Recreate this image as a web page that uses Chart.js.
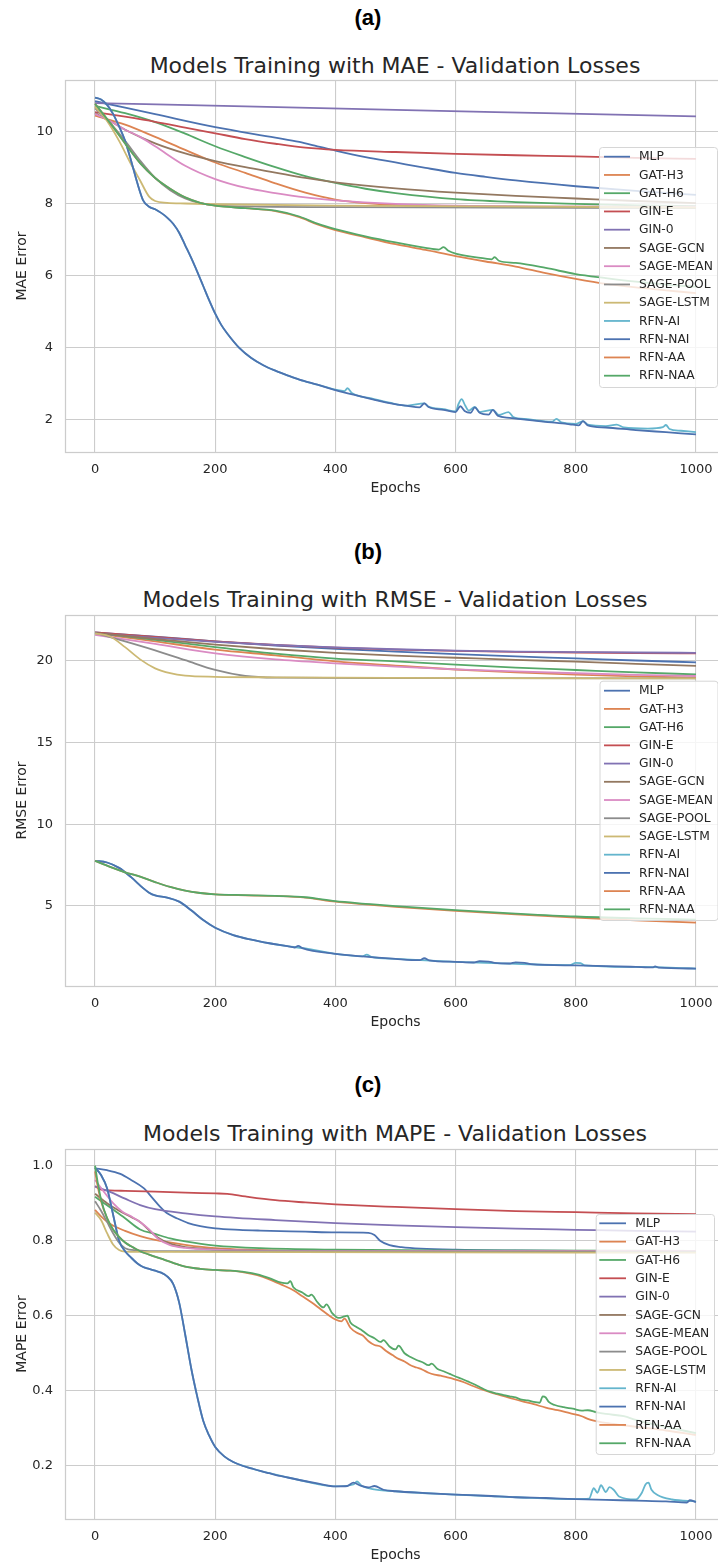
<!DOCTYPE html>
<html>
<head>
<meta charset="utf-8">
<script src="https://cdn.jsdelivr.net/npm/chart.js@4.4.0/dist/chart.umd.min.js"></script>
<style>
  body { margin: 0; background: #fff; width: 718px; height: 1566px; overflow: hidden; position: relative; }
  .tag { position: absolute; left: 0; width: 736px; text-align: center; font: bold 22px 'Liberation Sans', Arial, sans-serif; line-height: 26px; color: #000; }
  .title { position: absolute; left: 65px; width: 660px; text-align: center; font: 22px 'DejaVu Sans', sans-serif; line-height: 26px; color: #262626; white-space: nowrap; }
  canvas { position: absolute; left: 0; }
</style>
</head>
<body>
<div class="tag" style="top:5px">(a)</div>
<div class="title" style="top:53px">Models Training with MAE - Validation Losses</div>
<canvas id="maeChart" width="726" height="432" style="top:70px"></canvas>

<div class="tag" style="top:539px">(b)</div>
<div class="title" style="top:587px">Models Training with RMSE - Validation Losses</div>
<canvas id="rmseChart" width="726" height="431" style="top:605px"></canvas>

<div class="tag" style="top:1072px">(c)</div>
<div class="title" style="top:1121px">Models Training with MAPE - Validation Losses</div>
<canvas id="mapeChart" width="726" height="430" style="top:1139px"></canvas>

<script>
// model names, in legend order
const models = ['MLP', 'GAT-H3', 'GAT-H6', 'GIN-E', 'GIN-0', 'SAGE-GCN', 'SAGE-MEAN',
  'SAGE-POOL', 'SAGE-LSTM', 'RFN-AI', 'RFN-NAI', 'RFN-AA', 'RFN-NAA'];

const xTicks = [0, 200, 400, 600, 800, 1000];
const maeTicks = [2, 4, 6, 8, 10];
const rmseTicks = [5, 10, 15, 20];
const mapeTicks = [0.2, 0.4, 0.6, 0.8, 1.0];

// ---- MAE validation loss, [epoch, value] ----
const maeMLP = [[0,10.85],[100,10.49],[200,10.13],[300,9.84],[340,9.72],[370,9.6],[400,9.48],[450,9.3],[500,9.15],[550,9.0],[600,8.86],[650,8.75],[700,8.65],[800,8.49],[900,8.36],[1000,8.25]];
const maeGATH3 = [[0,10.45],[50,10.2],[100,9.86],[150,9.5],[200,9.15],[250,8.86],[300,8.57],[350,8.31],[400,8.12],[450,8.02],[500,7.97],[600,7.94],[800,7.92],[1000,7.9]];
const maeGATH6 = [[0,10.72],[50,10.52],[100,10.27],[150,9.95],[200,9.6],[250,9.3],[300,9.02],[350,8.77],[400,8.58],[450,8.42],[500,8.3],[600,8.13],[700,8.05],[800,8.0],[900,7.96],[1000,7.94]];
const maeGINE = [[0,10.55],[50,10.42],[100,10.28],[150,10.12],[200,9.96],[250,9.8],[300,9.67],[350,9.56],[400,9.5],[500,9.44],[600,9.39],[700,9.35],[800,9.32],[900,9.28],[1000,9.25]];
const maeGIN0 = [[0,10.8],[250,10.71],[500,10.61],[750,10.52],[1000,10.43]];
const maeSAGEGCN = [[0,10.52],[25,10.3],[50,10.06],[100,9.68],[150,9.4],[200,9.19],[250,9.02],[300,8.87],[350,8.72],[400,8.6],[500,8.43],[600,8.31],[700,8.22],[800,8.15],[900,8.08],[1000,8.02]];
const maeSAGEMEAN = [[0,10.5],[25,10.3],[50,10.06],[75,9.86],[100,9.6],[150,9.06],[200,8.69],[250,8.45],[300,8.3],[350,8.18],[400,8.1],[500,8.0],[600,7.95],[800,7.92],[1000,7.92]];
const maeSAGEPOOL = [[0,10.65],[25,10.25],[50,9.75],[75,9.2],[100,8.72],[125,8.38],[150,8.15],[175,8.02],[200,7.96],[250,7.93],[400,7.91],[1000,7.88]];
const maeSAGELSTM = [[0,10.7],[20,10.3],[40,9.75],[60,9.1],[75,8.65],[90,8.2],[100,8.08],[120,8.03],[150,8.01],[200,7.99],[400,7.95],[1000,7.9]];
const maeRFNAI = [[0,10.95],[10,10.9],[20,10.75],[30,10.5],[40,10.15],[50,9.75],[60,9.2],[70,8.6],[80,8.1],[90,7.92],[100,7.85],[110,7.75],[120,7.62],[130,7.45],[140,7.2],[150,6.85],[160,6.5],[170,6.12],[180,5.72],[190,5.32],[200,4.95],[210,4.64],[220,4.4],[240,4.0],[260,3.72],[280,3.52],[300,3.37],[320,3.24],[340,3.12],[370,2.98],[400,2.84],[415,2.8],[420,2.88],[428,2.74],[460,2.6],[490,2.48],[520,2.4],[548,2.46],[555,2.37],[580,2.3],[600,2.24],[605,2.45],[610,2.58],[616,2.4],[622,2.26],[632,2.36],[640,2.22],[662,2.28],[672,2.14],[688,2.22],[696,2.08],[720,2.02],[760,1.95],[768,2.03],[776,1.93],[800,1.89],[812,1.97],[820,1.87],[850,1.83],[868,1.87],[880,1.79],[920,1.76],[945,1.8],[950,1.86],[956,1.75],[975,1.7],[1000,1.66]];
const maeRFNNAI = [[0,10.95],[10,10.9],[20,10.75],[30,10.5],[40,10.15],[50,9.75],[60,9.2],[70,8.6],[80,8.1],[90,7.92],[100,7.85],[110,7.75],[120,7.62],[130,7.45],[140,7.2],[150,6.85],[160,6.5],[170,6.12],[180,5.72],[190,5.32],[200,4.95],[210,4.64],[220,4.4],[240,4.0],[260,3.72],[280,3.52],[300,3.37],[320,3.24],[340,3.12],[370,2.98],[400,2.83],[430,2.7],[460,2.58],[490,2.47],[520,2.39],[540,2.35],[548,2.46],[555,2.36],[580,2.28],[600,2.22],[608,2.38],[615,2.25],[625,2.2],[632,2.35],[640,2.2],[655,2.15],[662,2.28],[670,2.12],[690,2.06],[720,2.0],[760,1.93],[790,1.88],[805,1.85],[812,1.97],[820,1.85],[850,1.79],[900,1.72],[950,1.66],[1000,1.6]];
const maeRFNAA = [[0,10.78],[25,10.25],[50,9.68],[75,9.13],[100,8.72],[125,8.42],[150,8.18],[175,8.03],[200,7.95],[250,7.88],[300,7.8],[340,7.63],[370,7.43],[400,7.27],[450,7.07],[500,6.88],[550,6.72],[600,6.55],[650,6.4],[700,6.26],[750,6.08],[800,5.92],[850,5.78],[900,5.68],[950,5.6],[1000,5.52]];
const maeRFNNAA = [[0,10.78],[25,10.25],[50,9.68],[75,9.13],[100,8.72],[125,8.42],[150,8.18],[175,8.03],[200,7.95],[250,7.88],[300,7.81],[340,7.65],[370,7.45],[400,7.3],[450,7.1],[500,6.93],[550,6.78],[572,6.73],[580,6.8],[588,6.7],[600,6.62],[650,6.48],[660,6.46],[665,6.52],[672,6.42],[700,6.36],[750,6.22],[800,6.05],[850,5.94],[900,5.84],[950,5.76],[1000,5.7]];

// ---- RMSE validation loss ----
const rmseMLP = [[0,21.75],[100,21.5],[200,21.2],[300,20.95],[400,20.75],[500,20.58],[600,20.42],[700,20.28],[800,20.16],[900,20.03],[1000,19.92]];
const rmseGATH3 = [[0,21.7],[50,21.45],[100,21.2],[200,20.7],[300,20.35],[400,19.98],[500,19.72],[600,19.48],[700,19.3],[800,19.16],[900,19.06],[1000,18.98]];
const rmseGATH6 = [[0,21.72],[100,21.3],[200,20.85],[300,20.45],[400,20.15],[500,19.98],[600,19.78],[700,19.6],[800,19.45],[900,19.3],[1000,19.18]];
const rmseGINE = [[0,21.75],[100,21.48],[200,21.2],[300,20.98],[400,20.82],[500,20.7],[600,20.62],[700,20.56],[800,20.52],[900,20.49],[1000,20.47]];
const rmseGIN0 = [[0,21.7],[100,21.42],[200,21.17],[300,20.98],[400,20.84],[500,20.72],[600,20.64],[700,20.58],[800,20.55],[900,20.52],[1000,20.5]];
const rmseSAGEGCN = [[0,21.72],[100,21.35],[200,21.0],[300,20.72],[400,20.5],[500,20.33],[600,20.2],[700,20.07],[800,19.96],[900,19.83],[1000,19.7]];
const rmseSAGEMEAN = [[0,21.6],[100,21.05],[200,20.47],[300,20.1],[400,19.86],[500,19.66],[600,19.49],[700,19.36],[800,19.25],[900,19.15],[1000,19.08]];
const rmseSAGEPOOL = [[0,21.72],[50,21.2],[100,20.65],[150,20.05],[200,19.45],[250,19.08],[300,18.98],[500,18.95],[1000,18.93]];
const rmseSAGELSTM = [[0,21.7],[25,21.5],[50,20.85],[75,20.1],[100,19.55],[125,19.25],[150,19.1],[200,19.03],[300,19.0],[500,18.97],[1000,18.93]];
const rmseRFNAI = [[0,7.75],[20,7.65],[40,7.32],[60,6.75],[80,6.08],[90,5.8],[100,5.63],[120,5.5],[140,5.25],[160,4.72],[180,4.12],[200,3.65],[230,3.2],[260,2.92],[290,2.7],[320,2.52],[350,2.38],[400,2.05],[445,1.9],[452,2.0],[460,1.86],[500,1.74],[600,1.56],[700,1.44],[790,1.36],[800,1.5],[808,1.48],[815,1.35],[900,1.25],[1000,1.15]];
const rmseRFNNAI = [[0,7.75],[20,7.65],[40,7.32],[60,6.75],[80,6.08],[90,5.8],[100,5.63],[120,5.5],[140,5.25],[160,4.72],[180,4.12],[200,3.65],[230,3.2],[260,2.92],[290,2.7],[320,2.52],[332,2.44],[338,2.54],[345,2.4],[400,2.05],[450,1.88],[500,1.74],[540,1.66],[548,1.78],[556,1.65],[600,1.56],[630,1.52],[640,1.6],[655,1.58],[665,1.5],[690,1.46],[700,1.53],[715,1.5],[725,1.42],[800,1.34],[850,1.3],[900,1.25],[928,1.22],[932,1.28],[938,1.21],[1000,1.15]];
const rmseRFNAA = [[0,7.75],[25,7.38],[50,7.05],[75,6.78],[100,6.45],[125,6.15],[150,5.92],[175,5.78],[200,5.7],[250,5.64],[300,5.6],[350,5.5],[400,5.25],[450,5.08],[500,4.93],[600,4.68],[700,4.47],[800,4.28],[900,4.1],[1000,3.97]];
const rmseRFNNAA = [[0,7.75],[25,7.38],[50,7.05],[75,6.78],[100,6.45],[125,6.15],[150,5.92],[175,5.78],[200,5.7],[250,5.65],[300,5.6],[350,5.52],[400,5.28],[450,5.12],[500,4.97],[600,4.73],[700,4.52],[800,4.34],[900,4.23],[1000,4.15]];

// ---- MAPE validation loss ----
const mapeMLP = [[0,0.993],[20,0.988],[42,0.978],[60,0.962],[81,0.94],[95,0.915],[108,0.891],[120,0.873],[136,0.86],[155,0.847],[175,0.839],[200,0.833],[240,0.829],[275,0.827],[350,0.824],[400,0.822],[455,0.821],[465,0.815],[475,0.799],[490,0.788],[510,0.783],[542,0.779],[600,0.776],[700,0.774],[800,0.773],[1000,0.772]];
const mapeGATH3 = [[0,0.882],[10,0.865],[25,0.845],[50,0.826],[75,0.812],[100,0.802],[150,0.789],[200,0.78],[300,0.774],[400,0.772],[1000,0.77]];
const mapeGATH6 = [[0,0.917],[15,0.9],[30,0.883],[50,0.86],[75,0.83],[100,0.818],[125,0.806],[150,0.798],[200,0.787],[275,0.78],[400,0.776],[600,0.774],[1000,0.773]];
const mapeGINE = [[0,0.945],[10,0.936],[50,0.933],[100,0.931],[150,0.928],[200,0.926],[220,0.925],[250,0.918],[300,0.908],[350,0.902],[400,0.897],[500,0.89],[600,0.884],[700,0.879],[800,0.876],[900,0.873],[1000,0.871]];
const mapeGIN0 = [[0,0.945],[25,0.93],[50,0.912],[75,0.895],[100,0.884],[150,0.873],[200,0.865],[300,0.855],[400,0.847],[500,0.841],[600,0.836],[700,0.832],[800,0.829],[900,0.826],[1000,0.824]];
const mapeSAGEGCN = [[0,0.925],[20,0.9],[40,0.88],[60,0.863],[75,0.85],[90,0.828],[105,0.808],[125,0.792],[150,0.783],[200,0.777],[300,0.773],[1000,0.771]];
const mapeSAGEMEAN = [[0,0.962],[15,0.93],[30,0.9],[45,0.878],[60,0.865],[75,0.85],[90,0.83],[105,0.805],[125,0.788],[150,0.781],[200,0.776],[300,0.773],[1000,0.772]];
const mapeSAGEPOOL = [[0,0.905],[10,0.88],[20,0.85],[30,0.82],[40,0.795],[50,0.78],[70,0.774],[100,0.772],[1000,0.77]];
const mapeSAGELSTM = [[0,0.875],[10,0.855],[20,0.82],[30,0.79],[40,0.775],[50,0.771],[100,0.77],[1000,0.768]];
const mapeRFNAI = [[0,0.995],[10,0.975],[20,0.94],[30,0.87],[40,0.8],[50,0.772],[60,0.755],[70,0.74],[80,0.73],[90,0.725],[100,0.72],[110,0.715],[120,0.705],[130,0.685],[140,0.635],[150,0.55],[160,0.46],[170,0.385],[180,0.32],[190,0.28],[200,0.25],[215,0.225],[230,0.21],[260,0.193],[290,0.18],[340,0.162],[400,0.145],[430,0.15],[436,0.158],[444,0.146],[500,0.132],[600,0.123],[700,0.116],[800,0.111],[822,0.112],[830,0.14],[836,0.128],[842,0.148],[850,0.13],[856,0.143],[863,0.136],[872,0.118],[900,0.11],[910,0.128],[916,0.15],[921,0.155],[926,0.136],[936,0.122],[960,0.11],[1000,0.105]];
const mapeRFNNAI = [[0,0.995],[10,0.975],[20,0.94],[30,0.87],[40,0.8],[50,0.772],[60,0.755],[70,0.74],[80,0.73],[90,0.725],[100,0.72],[110,0.715],[120,0.705],[130,0.685],[140,0.635],[150,0.55],[160,0.46],[170,0.385],[180,0.32],[190,0.28],[200,0.25],[215,0.225],[230,0.21],[245,0.2],[260,0.193],[275,0.186],[290,0.18],[310,0.172],[340,0.162],[370,0.153],[400,0.145],[420,0.146],[430,0.155],[440,0.148],[455,0.142],[465,0.146],[480,0.136],[500,0.132],[550,0.127],[600,0.123],[650,0.12],[700,0.116],[750,0.114],[800,0.111],[850,0.109],[900,0.107],[950,0.105],[985,0.102],[990,0.108],[1000,0.103]];
const mapeRFNAA = [[0,0.985],[5,0.94],[10,0.905],[20,0.86],[30,0.83],[40,0.81],[50,0.795],[60,0.785],[75,0.772],[90,0.763],[110,0.752],[130,0.741],[150,0.731],[175,0.725],[200,0.722],[225,0.72],[250,0.715],[270,0.708],[290,0.697],[310,0.683],[330,0.668],[345,0.652],[360,0.636],[375,0.618],[390,0.6],[400,0.59],[410,0.585],[415,0.592],[425,0.568],[435,0.555],[445,0.548],[455,0.532],[465,0.522],[475,0.518],[485,0.505],[495,0.495],[505,0.485],[515,0.478],[525,0.468],[535,0.462],[545,0.456],[555,0.448],[565,0.443],[575,0.44],[585,0.436],[595,0.432],[610,0.425],[630,0.412],[650,0.4],[670,0.39],[690,0.381],[710,0.372],[730,0.364],[750,0.355],[770,0.348],[790,0.34],[810,0.332],[820,0.325],[830,0.32],[850,0.314],[880,0.308],[910,0.302],[950,0.294],[1000,0.282]];
const mapeRFNNAA = [[0,1.0],[5,0.95],[10,0.91],[20,0.86],[30,0.83],[40,0.81],[50,0.795],[60,0.785],[75,0.772],[90,0.763],[110,0.752],[130,0.741],[150,0.731],[175,0.725],[200,0.722],[225,0.72],[250,0.716],[270,0.71],[290,0.7],[310,0.688],[320,0.686],[325,0.692],[330,0.676],[345,0.662],[355,0.652],[360,0.656],[370,0.636],[380,0.622],[385,0.63],[395,0.606],[405,0.594],[415,0.598],[420,0.6],[425,0.582],[435,0.57],[445,0.56],[455,0.548],[465,0.54],[475,0.53],[480,0.535],[490,0.518],[500,0.51],[505,0.52],[515,0.5],[525,0.49],[535,0.482],[545,0.476],[555,0.468],[560,0.472],[570,0.458],[580,0.452],[590,0.445],[600,0.438],[610,0.432],[620,0.425],[630,0.418],[640,0.41],[650,0.402],[660,0.396],[670,0.392],[680,0.388],[690,0.385],[700,0.382],[710,0.376],[720,0.374],[730,0.37],[740,0.368],[745,0.385],[750,0.382],[755,0.37],[765,0.362],[780,0.356],[795,0.352],[810,0.347],[820,0.348],[835,0.342],[850,0.338],[880,0.332],[900,0.322],[930,0.31],[960,0.3],[1000,0.287]];

// seaborn "deep" palette, cycled for the last three models
const palette = ['#4C72B0', '#DD8452', '#55A868', '#C44E52', '#8172B3', '#937860',
  '#DA8BC3', '#8C8C8C', '#CCB974', '#64B5CD'];
const textColor = '#262626';
const gridColor = '#cccccc';

// light frame around the plot area
const framePlugin = {
  id: 'frame',
  afterDatasetsDraw(chart) {
    const {ctx, chartArea: a} = chart;
    ctx.save();
    ctx.strokeStyle = gridColor;
    ctx.lineWidth = 1.25;
    ctx.strokeRect(a.left + 0.5, a.top + 0.5, a.right - a.left, a.bottom - a.top);
    ctx.restore();
  }
};

// legend box drawn inside the plot, like matplotlib's 'best' placement
const boxLegend = {
  id: 'boxLegend',
  afterDraw(chart, args, o) {
    const ctx = chart.ctx;
    ctx.save();
    ctx.beginPath();
    ctx.roundRect(o.left + 0.5, o.top + 0.5, o.width, o.height, 3);
    ctx.fillStyle = 'rgba(255,255,255,0.8)';
    ctx.fill();
    ctx.strokeStyle = '#d6d6d6';
    ctx.lineWidth = 1;
    ctx.stroke();
    ctx.font = '12.3px "DejaVu Sans"';
    ctx.textBaseline = 'middle';
    chart.data.datasets.forEach((ds, i) => {
      const y = o.firstRow + i * o.rowH;
      ctx.strokeStyle = ds.borderColor;
      ctx.lineWidth = 1.8;
      ctx.beginPath();
      ctx.moveTo(o.lineX0, y);
      ctx.lineTo(o.lineX1, y);
      ctx.stroke();
      ctx.fillStyle = textColor;
      ctx.fillText(ds.label, o.textX, y + 0.5);
    });
    ctx.restore();
  }
};

function buildChart(id, series, yMin, yMax, yTicks, yLabel, digits, legendBox) {
  const font = {family: 'DejaVu Sans', size: 13};
  return new Chart(document.getElementById(id), {
    type: 'line',
    data: {
      datasets: series.map((pts, i) => ({
        label: models[i],
        data: pts.map(p => ({x: p[0], y: p[1]})),
        borderColor: palette[i % palette.length],
        borderWidth: 1.8,
        pointRadius: 0,
        cubicInterpolationMode: 'monotone',
        fill: false,
        order: series.length - i   // later models drawn on top
      }))
    },
    options: {
      responsive: false,
      animation: false,
      events: [],
      layout: {padding: {top: 10, left: 0, right: 0, bottom: 0}},
      scales: {
        x: {
          type: 'linear',
          min: -50,
          max: 1050,
          bounds: 'data',
          afterBuildTicks: s => { s.ticks = xTicks.map(v => ({value: v})); },
          afterFit: s => { s.height = 50; s.paddingLeft = 0; s.paddingRight = 0; },
          grid: {color: gridColor, lineWidth: 1.1, drawTicks: false},
          border: {display: false},
          ticks: {padding: 10, color: textColor, font: font, maxRotation: 0,
            callback: v => String(v)},
          title: {display: true, text: 'Epochs', color: textColor,
            font: {family: 'DejaVu Sans', size: 14}, padding: {top: 0, bottom: 5}}
        },
        y: {
          min: yMin,
          max: yMax,
          bounds: 'data',
          afterBuildTicks: s => { s.ticks = yTicks.map(v => ({value: v})); },
          afterFit: s => { s.width = 65; s.paddingTop = 0; s.paddingBottom = 0; },
          grid: {color: gridColor, lineWidth: 1.1, drawTicks: false},
          border: {display: false},
          ticks: {padding: 12, color: textColor, font: font,
            callback: v => digits ? v.toFixed(digits) : String(v)},
          title: {display: true, text: yLabel, color: textColor,
            font: {family: 'DejaVu Sans', size: 14}, padding: {top: 14, bottom: 0}}
        }
      },
      plugins: {
        legend: {display: false},
        tooltip: {enabled: false},
        boxLegend: legendBox
      }
    },
    plugins: [framePlugin, boxLegend]
  });
}

buildChart('maeChart',
  [maeMLP, maeGATH3, maeGATH6, maeGINE, maeGIN0, maeSAGEGCN, maeSAGEMEAN, maeSAGEPOOL,
   maeSAGELSTM, maeRFNAI, maeRFNNAI, maeRFNAA, maeRFNNAA],
  1.11, 11.44, maeTicks, 'MAE Error', 0,
  {left: 599, top: 77, width: 118, height: 240, firstRow: 86.7, rowH: 18.25, lineX0: 604, lineX1: 630, textX: 639});

buildChart('rmseChart',
  [rmseMLP, rmseGATH3, rmseGATH6, rmseGINE, rmseGIN0, rmseSAGEGCN, rmseSAGEMEAN, rmseSAGEPOOL,
   rmseSAGELSTM, rmseRFNAI, rmseRFNNAI, rmseRFNAA, rmseRFNNAA],
  0.08, 22.82, rmseTicks, 'RMSE Error', 0,
  {left: 599.5, top: 75.7, width: 118, height: 239.3, firstRow: 85.7, rowH: 18.22, lineX0: 604, lineX1: 630, textX: 639});

buildChart('mapeChart',
  [mapeMLP, mapeGATH3, mapeGATH6, mapeGINE, mapeGIN0, mapeSAGEGCN, mapeSAGEMEAN, mapeSAGEPOOL,
   mapeSAGELSTM, mapeRFNAI, mapeRFNNAI, mapeRFNAA, mapeRFNNAA],
  0.058, 1.0445, mapeTicks, 'MAPE Error', 1,
  {left: 595.7, top: 75, width: 118.3, height: 240, firstRow: 84.3, rowH: 18.33, lineX0: 599.3, lineX1: 626, textX: 635.3});
</script>
</body>
</html>
